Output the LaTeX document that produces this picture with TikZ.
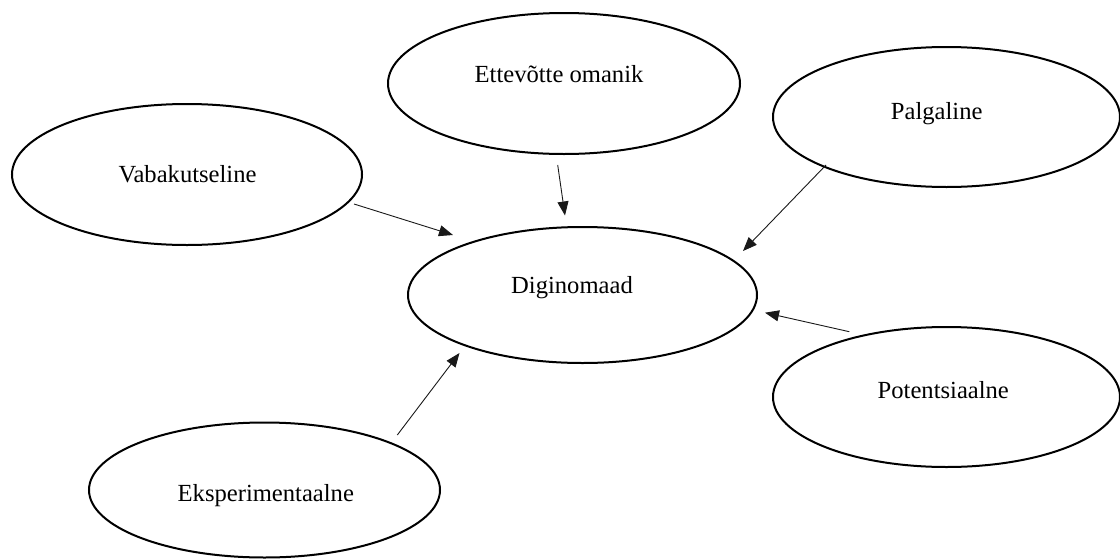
\documentclass[tikz,border=0pt]{standalone}
\usepackage{fontspec}
\setmainfont{Liberation Serif}
\usetikzlibrary{shapes.geometric,arrows.meta}
\tikzset{
  oval/.style={draw=black, line width=2pt, ellipse, inner sep=0pt,
    minimum width=350pt, minimum height=139pt},
  lbl/.style={anchor=base, inner sep=0pt, font=\fontsize{24.6}{28}\selectfont},
  arr/.style={draw=black!90, line width=0.9pt, -{Triangle[length=14pt,width=11pt]}}
}
\begin{document}
\begin{tikzpicture}[x=1pt,y=-1pt]
\useasboundingbox (0,0) rectangle (1120,560);
% ellipses
\node[oval, minimum width=352pt, minimum height=141pt] (ett) at (564,83.5) {};
\node[oval, minimum width=347pt, minimum height=140pt] (pal) at (946.5,117) {};
\node[oval, minimum width=350pt, minimum height=141pt] (vab) at (187,174.5) {};
\node[oval, minimum width=349pt, minimum height=136pt] (dig) at (582.5,295) {};
\node[oval, minimum width=347pt, minimum height=140pt] (pot) at (946.5,397) {};
\node[oval, minimum width=351pt, minimum height=135pt] (eks) at (264.5,490) {};
% labels
\node[lbl] (ettT) at (559,82) {Ettevõtte omanik};
\node[lbl] (palT) at (936.7,119) {Palgaline};
\node[lbl] (vabT) at (187.5,182) {Vabakutseline};
\node[lbl] (digT) at (572,293) {Diginomaad};
\node[lbl] (potT) at (943.3,398) {Potentsiaalne};
\node[lbl] (eksT) at (265.8,501) {Eksperimentaalne};
% connector end points
\coordinate (vabS) at (354,204);   \coordinate (vabE) at (453,235);
\coordinate (ettS) at (557.7,165); \coordinate (ettE) at (565,215.5);
\coordinate (palS) at (826,165);   \coordinate (palE) at (743,251);
\coordinate (potS) at (849.3,331.7); \coordinate (potE) at (765,312.7);
\coordinate (eksS) at (397.3,435); \coordinate (eksE) at (459.5,353);
% connectors
\draw[arr] (vabS) -- (vabE);
\draw[arr] (ettS) -- (ettE);
\draw[arr] (palS) -- (palE);
\draw[arr] (potS) -- (potE);
\draw[arr] (eksS) -- (eksE);
\end{tikzpicture}
\end{document}
